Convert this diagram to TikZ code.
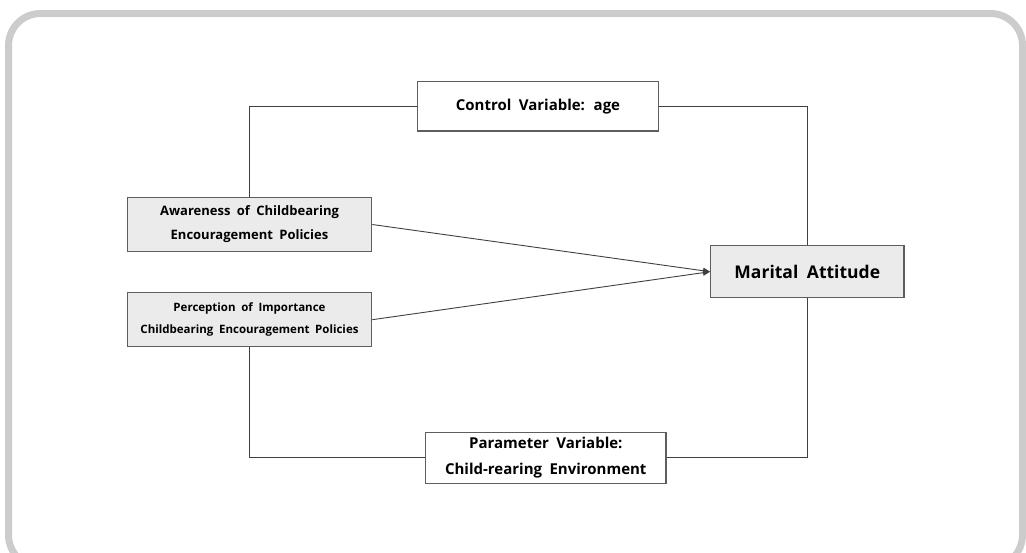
\documentclass[tikz,border=0pt]{standalone}
\usepackage{fontspec}
\setmainfont{Open Sans}[WordSpace=1.9]
\usetikzlibrary{arrows.meta}
\definecolor{frame}{HTML}{CCCCCC}
\definecolor{boxfill}{HTML}{EBEBEB}
\definecolor{boxline}{HTML}{5E5E5E}
\definecolor{wire}{HTML}{404040}
\tikzset{
  varbox/.style={draw=boxline, line width=1.2pt, rectangle, align=center, inner sep=0pt, text=black},
  greybox/.style={varbox, fill=boxfill},
  whitebox/.style={varbox, fill=white},
  wireline/.style={draw=wire, line width=0.9pt},
  arrowline/.style={wireline, -{Triangle[length=7pt,width=6pt]}, shorten >=0pt}
}
\begin{document}
\begin{tikzpicture}[x=1pt,y=-1pt]
\useasboundingbox (0,0) rectangle (1026,552);
\clip (0,0) rectangle (1026,552);
\draw[frame, line width=7pt, rounded corners=32pt] (8.5,13.5) rectangle (1022.5,567);

\node[whitebox, minimum width=241pt, minimum height=49.5pt,
  font=\bfseries\fontsize{15}{26}\selectfont] (ctrl) at (538,106.3) {Control Variable: age};
\node[greybox, minimum width=244.4pt, minimum height=54.4pt,
  font=\bfseries\fontsize{13}{24}\selectfont] (aware) at (249.5,224.5) {Awareness of Childbearing\\Encouragement Policies};
\node[greybox, minimum width=244.4pt, minimum height=54pt,
  font=\bfseries\fontsize{11.5}{22}\selectfont] (percep) at (249.5,319.7) {Perception of Importance\\Childbearing Encouragement Policies};
\node[greybox, minimum width=193.3pt, minimum height=52pt,
  font=\bfseries\fontsize{17.5}{22}\selectfont] (marital) at (807.3,271.7) {Marital Attitude};
\node[whitebox, minimum width=240.3pt, minimum height=51pt,
  font=\bfseries\fontsize{15}{26}\selectfont] (param) at (545.8,457.8) {Parameter Variable:\\Child-rearing Environment};

\draw[wireline] (aware.north) |- (ctrl.west);
\draw[wireline] (ctrl.east) -| (marital.north);
\draw[wireline] (percep.south) |- (param.west);
\draw[wireline] (param.east) -| (marital.south);
\draw[arrowline] (aware.east) -- (marital.west);
\draw[arrowline] (percep.east) -- (marital.west);
\end{tikzpicture}
\end{document}
